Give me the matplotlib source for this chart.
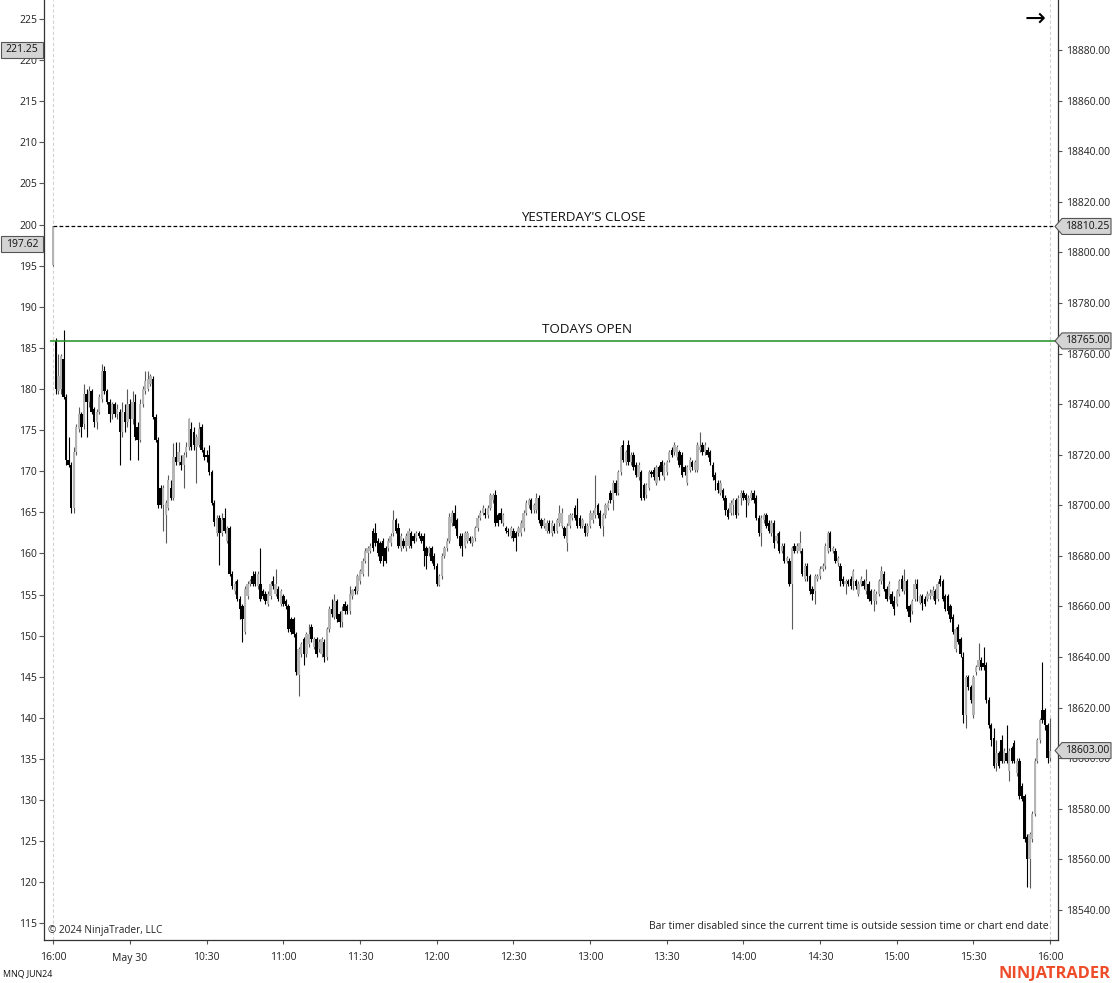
import numpy as np
import matplotlib
matplotlib.use("Agg")
from matplotlib import pyplot as plt
from matplotlib.patches import Polygon, Rectangle
import matplotlib.transforms as mtransforms

plt.rcParams['font.family'] = ['Open Sans', 'DejaVu Sans']

# 1-minute bars, MNQ JUN24, bar 0 = prior session close (16:00), then 9:31 .. 16:00
opens = [
    18795, 18765, 18745, 18746, 18758, 18743, 18718, 18716, 18699, 18721,
    18730, 18736, 18732, 18744, 18741, 18745, 18738, 18733, 18737, 18742,
    18753, 18745, 18741, 18736, 18740, 18736, 18737, 18729, 18737, 18733,
    18740, 18734, 18741, 18731, 18726, 18740, 18745, 18746, 18748, 18750,
    18735, 18726, 18707, 18700, 18696, 18699, 18707, 18703, 18719, 18717,
    18717, 18716, 18721, 18723, 18730, 18729, 18723, 18724, 18731, 18722,
    18720, 18720, 18713, 18701, 18689, 18695, 18689, 18695, 18686, 18691,
    18673, 18666, 18670, 18663, 18660, 18650, 18664, 18669, 18672, 18673,
    18668, 18669, 18666, 18665, 18661, 18664, 18670, 18665, 18667, 18661,
    18664, 18662, 18660, 18655, 18655, 18649, 18633, 18641, 18647, 18641,
    18645, 18652, 18644, 18647, 18643, 18641, 18646, 18640, 18651, 18659,
    18656, 18662, 18657, 18654, 18661, 18660, 18658, 18664, 18667, 18666,
    18670, 18673, 18678, 18681, 18682, 18690, 18689, 18686, 18685, 18686,
    18683, 18683, 18685, 18689, 18694, 18691, 18683, 18686, 18683, 18684,
    18689, 18688, 18687, 18689, 18688, 18688, 18683, 18681, 18683, 18680,
    18676, 18668.5, 18672, 18680, 18683, 18686, 18693, 18697, 18694, 18688,
    18688, 18684, 18686, 18687, 18685, 18687, 18691, 18695, 18697, 18697,
    18696, 18699, 18702, 18704, 18696, 18697, 18693, 18691, 18690, 18688,
    18690, 18689, 18689, 18689, 18691, 18697, 18700, 18702, 18698, 18698,
    18703, 18694, 18692, 18690, 18693, 18689, 18692, 18690, 18693, 18692,
    18691, 18685, 18692, 18695, 18699, 18696, 18695, 18692, 18692, 18689,
    18692, 18694, 18696, 18700, 18697, 18692, 18696, 18699, 18705, 18702,
    18709, 18705, 18713, 18724, 18717, 18724, 18717, 18720, 18716, 18711,
    18713, 18708, 18704, 18707, 18713, 18714, 18709, 18715, 18717, 18711,
    18713, 18718, 18722, 18721, 18719, 18721, 18720, 18715, 18709, 18714,
    18717, 18714, 18714, 18722, 18724, 18721, 18722, 18721, 18716, 18712,
    18709, 18705, 18706, 18703, 18698, 18697, 18700, 18702, 18697, 18703,
    18705, 18704, 18701, 18703, 18705, 18703, 18695, 18689, 18694, 18696,
    18693, 18689, 18693, 18686, 18689, 18682, 18684, 18678, 18678, 18669,
    18684, 18682, 18682, 18682, 18671, 18676, 18672, 18667, 18666, 18671,
    18672, 18675, 18676, 18682, 18689, 18682, 18682, 18677, 18676, 18671,
    18669, 18670, 18671, 18670, 18670, 18665, 18669, 18670, 18666, 18669,
    18666, 18662, 18662, 18665, 18670, 18673, 18667, 18664, 18665, 18662,
    18661, 18665, 18671, 18666, 18670, 18660, 18658, 18663, 18669, 18661.5,
    18664, 18663, 18663, 18664, 18664, 18666, 18663, 18671, 18670, 18664,
    18664, 18660, 18656, 18643, 18652, 18647, 18640, 18617, 18632, 18628,
    18617, 18634, 18636, 18639, 18637.5, 18637, 18623, 18613, 18608, 18598,
    18602, 18607, 18599, 18602, 18595, 18604, 18606, 18594, 18599, 18589,
    18585, 18569, 18560, 18568, 18578, 18599, 18607, 18619, 18619, 18613, 18600,
]
highs = [
    18810.5, 18766, 18760, 18760, 18769.5, 18744, 18727, 18717, 18723, 18732,
    18739, 18737, 18748, 18746, 18747, 18746, 18739, 18738, 18744, 18756,
    18755, 18746, 18742, 18741, 18741, 18740, 18738, 18741, 18740, 18746,
    18742, 18745, 18744, 18733, 18742, 18747, 18753, 18753, 18752, 18751,
    18736, 18727, 18708, 18708, 18702, 18712, 18710, 18724.5, 18725, 18725,
    18720, 18721, 18725, 18734.5, 18733, 18731, 18728, 18733, 18732, 18723,
    18722, 18724, 18714, 18702, 18696, 18696, 18697, 18699, 18692, 18692,
    18674, 18670, 18671, 18664, 18661, 18668, 18670, 18671, 18674, 18674,
    18674, 18683, 18667, 18666, 18666, 18670, 18672, 18675, 18668, 18667,
    18665, 18663, 18661, 18656, 18656, 18650, 18644, 18646, 18648, 18650,
    18653, 18653, 18648, 18648, 18647, 18648, 18647, 18652, 18660, 18663,
    18665, 18663, 18658, 18660, 18662, 18661, 18668, 18667, 18668, 18673,
    18675, 18679, 18683, 18684, 18685, 18691, 18693, 18687, 18686, 18687,
    18684, 18687, 18689, 18698, 18695, 18693, 18689, 18687, 18689, 18691,
    18690, 18689, 18690, 18690, 18689, 18689, 18684, 18684, 18684, 18681,
    18677, 18673, 18681, 18684, 18687, 18697, 18698, 18700, 18695, 18689,
    18689, 18690, 18690, 18688, 18688, 18692, 18696, 18698, 18700, 18699,
    18700, 18705, 18705, 18706, 18697, 18699, 18697, 18692, 18691, 18692,
    18691, 18690, 18692, 18694, 18698, 18702, 18703, 18703, 18701, 18705,
    18704, 18695, 18695, 18694, 18694, 18694, 18693, 18695, 18700, 18699,
    18692, 18693, 18697, 18697, 18700, 18703, 18696, 18695, 18693, 18693,
    18698, 18698, 18712, 18701, 18698, 18697, 18701, 18702, 18706, 18710,
    18710, 18714, 18724, 18726, 18722, 18726, 18721, 18721, 18717, 18717,
    18714, 18709, 18709, 18714, 18714, 18715, 18716, 18716, 18718, 18717,
    18718, 18722, 18723, 18725, 18724, 18722, 18721, 18716, 18716, 18719,
    18718, 18718, 18725, 18729, 18725, 18725, 18723, 18722, 18717, 18713,
    18710, 18710, 18707, 18704, 18699, 18702, 18703, 18703, 18704, 18706,
    18706, 18705, 18704, 18706, 18706, 18704, 18696, 18696, 18697, 18697,
    18694, 18694, 18694, 18689, 18690, 18685, 18685, 18680, 18679, 18684,
    18685, 18685, 18690, 18683, 18677, 18677, 18673, 18668, 18673, 18673,
    18676, 18677, 18685, 18690, 18690, 18684, 18683, 18680, 18677, 18672,
    18671, 18671, 18672, 18675, 18671, 18670, 18672, 18671, 18675, 18670,
    18667, 18667, 18666, 18671, 18676, 18674, 18668, 18670, 18666, 18664,
    18667, 18671, 18672.5, 18675, 18671, 18661, 18663, 18671, 18671, 18665,
    18665, 18664, 18666, 18667, 18668, 18667, 18670, 18672.5, 18671, 18665,
    18665, 18661, 18657, 18652, 18653, 18648, 18642, 18633, 18633, 18629,
    18633, 18637, 18645.5, 18640, 18644, 18638, 18624, 18614, 18612, 18607,
    18603, 18609, 18604, 18613, 18604, 18605, 18607, 18600, 18600, 18590,
    18586, 18570, 18571, 18579, 18600, 18608, 18616, 18638, 18620, 18614, 18616,
]
lows = [
    18794.5, 18744, 18744, 18744, 18742, 18716, 18715, 18697, 18697, 18720,
    18729, 18727, 18730, 18727, 18739, 18736, 18731, 18730, 18736, 18741,
    18744, 18740, 18733, 18734, 18735, 18734, 18716, 18727, 18729, 18731,
    18718, 18732, 18726, 18718, 18725, 18739, 18744, 18745, 18747, 18734,
    18725, 18699, 18699, 18690, 18685, 18698, 18702, 18702, 18716, 18716,
    18714, 18707, 18719, 18722, 18722, 18722, 18709, 18723, 18721, 18718,
    18717, 18712, 18700, 18692, 18688, 18676.5, 18688, 18689, 18685, 18672,
    18667, 18665, 18662, 18655, 18646, 18649, 18663, 18668, 18668, 18668,
    18667, 18662, 18663, 18661, 18660, 18663, 18667, 18664, 18662, 18660,
    18660, 18659, 18650, 18649, 18648, 18633, 18624.5, 18640, 18637, 18640,
    18644, 18646, 18643, 18640, 18642, 18640, 18638, 18639, 18650, 18656,
    18655, 18654, 18652, 18652, 18657, 18657, 18657, 18663, 18665, 18665,
    18669, 18672, 18677, 18672, 18681, 18682, 18684, 18680, 18677, 18676,
    18677, 18682, 18684, 18688, 18689, 18683, 18682, 18683, 18682, 18683,
    18683, 18685, 18686, 18687, 18685, 18676, 18675, 18680, 18677, 18675,
    18668, 18668, 18671, 18679, 18682, 18685, 18692, 18691, 18687, 18683,
    18680, 18683, 18685, 18685, 18684, 18686, 18690, 18694, 18696, 18695,
    18695, 18698, 18701, 18692, 18692, 18693, 18692, 18689, 18688, 18687,
    18686, 18682, 18688, 18688, 18690, 18696, 18699, 18697, 18697, 18697,
    18693, 18691, 18691, 18689, 18689, 18688, 18689, 18689, 18692, 18691,
    18687, 18682, 18691, 18694, 18694, 18691, 18691, 18691, 18688, 18688,
    18691, 18693, 18695, 18695, 18691, 18688, 18695, 18698, 18701, 18698,
    18704, 18704, 18712, 18717, 18716, 18716, 18716, 18714, 18711, 18710,
    18702, 18702, 18703, 18706, 18711, 18710, 18708, 18710, 18712, 18710,
    18712, 18717, 18719, 18720, 18718, 18715, 18711, 18712, 18708, 18713,
    18714, 18713, 18713, 18721, 18720, 18720, 18719, 18716, 18710, 18706,
    18705, 18704, 18702, 18696, 18694.5, 18696, 18696, 18695, 18696, 18700,
    18702, 18695.5, 18700, 18702, 18701, 18694, 18688, 18684, 18693, 18691,
    18689, 18688, 18683, 18685, 18681, 18681, 18677, 18677, 18668, 18651,
    18681, 18681, 18681, 18672, 18670, 18670, 18665, 18662.5, 18661, 18670,
    18671, 18674, 18675, 18681, 18682, 18681, 18677, 18676, 18668, 18668,
    18665, 18668, 18667, 18666.5, 18667, 18664, 18668, 18667, 18665, 18662,
    18661, 18658, 18661, 18664, 18669, 18666, 18662, 18663, 18660, 18656.5,
    18660, 18664, 18666, 18665, 18658, 18654, 18657, 18662, 18662, 18661,
    18658.5, 18660, 18662, 18663, 18663, 18661, 18662, 18668, 18662, 18658,
    18657, 18654, 18649, 18642, 18645, 18640, 18614, 18612, 18627, 18622,
    18616, 18633, 18635, 18635, 18635, 18622, 18612, 18605, 18596, 18595,
    18596, 18598, 18598, 18598, 18591, 18598, 18598, 18593, 18584, 18583,
    18567, 18549, 18548.5, 18567, 18577, 18598, 18606, 18614, 18611, 18598, 18599,
]
closes = [
    18810.25, 18746, 18751, 18759, 18743, 18718, 18716, 18699, 18721, 18731,
    18736, 18731, 18744, 18741, 18745, 18737, 18733, 18737, 18743, 18753,
    18745, 18741, 18736, 18740, 18736, 18738, 18729, 18737, 18733, 18740,
    18734, 18741, 18727, 18726, 18740, 18746, 18749, 18750, 18751, 18735,
    18726, 18700, 18700, 18707, 18701, 18710, 18703, 18719, 18717, 18721,
    18716, 18720, 18723, 18734, 18723, 18724, 18727, 18730, 18722, 18719,
    18719, 18713, 18701, 18693.5, 18695, 18689, 18694, 18690, 18691, 18673,
    18668, 18669, 18663, 18659, 18655, 18667, 18669, 18670, 18669, 18669,
    18673, 18663, 18664, 18662, 18665, 18669, 18668, 18669, 18663, 18666,
    18661, 18660, 18651, 18650, 18649, 18634, 18643, 18645, 18641, 18649,
    18649, 18647, 18647, 18641, 18646, 18647, 18640, 18651, 18659, 18657,
    18662, 18655, 18654, 18658, 18658, 18658, 18665, 18666.5, 18666, 18672,
    18674, 18678, 18682, 18683, 18684, 18683, 18685, 18681, 18678, 18680,
    18678, 18686, 18688, 18694, 18690, 18684, 18688, 18684, 18688, 18690,
    18684, 18686, 18689, 18688, 18686, 18682, 18680, 18683, 18678, 18676,
    18669, 18672, 18680, 18683, 18686, 18695.5, 18697, 18692, 18688, 18684,
    18684, 18689, 18689, 18686, 18687, 18691, 18695, 18697, 18699, 18696,
    18699, 18704, 18704, 18693, 18693, 18694, 18696, 18690, 18689.5, 18691,
    18687, 18687, 18691, 18693, 18697, 18701, 18702, 18698, 18700, 18703,
    18694, 18692, 18694, 18693, 18690, 18693, 18690, 18694, 18697, 18697,
    18688, 18692, 18696, 18696, 18695, 18692, 18692, 18694, 18689, 18692,
    18697, 18697, 18699, 18696, 18692, 18696, 18700, 18701, 18702, 18709,
    18705, 18713, 18723, 18718, 18721, 18717, 18720, 18715, 18712, 18716,
    18703, 18703, 18708, 18713, 18712.5, 18711, 18715, 18711, 18713, 18716,
    18717, 18721, 18720, 18724, 18723, 18716, 18712, 18713, 18715, 18718,
    18715, 18717, 18724, 18723, 18721, 18724, 18720, 18717, 18711, 18710,
    18706, 18709, 18703, 18698, 18695.5, 18701, 18702, 18696, 18703, 18705,
    18703, 18702, 18703, 18705, 18702, 18695, 18689, 18695, 18696, 18692,
    18690, 18693, 18685, 18688, 18682, 18684, 18678, 18679, 18669, 18683,
    18682, 18684, 18685, 18673, 18676, 18672, 18666, 18665, 18672, 18672,
    18675, 18676, 18684, 18689, 18683, 18683, 18678, 18679, 18670, 18669,
    18670, 18669, 18668, 18674, 18668, 18669, 18671, 18668, 18670, 18663,
    18662, 18666, 18665, 18670, 18674, 18667, 18663, 18669, 18661, 18659,
    18666, 18670, 18667, 18670, 18659, 18656, 18662, 18669, 18667, 18664,
    18661.5, 18661, 18665, 18665.5, 18666.5, 18662, 18669, 18669, 18663, 18659,
    18658, 18655, 18650, 18651, 18646, 18641, 18617, 18632, 18628, 18623,
    18632, 18636, 18639, 18636, 18636, 18623, 18613, 18607, 18597, 18602,
    18597, 18599, 18603, 18599, 18603, 18599, 18599, 18599, 18585, 18584,
    18568, 18560, 18570, 18578, 18599, 18607, 18615, 18615, 18613, 18600, 18603,
]

time_ticks = [0, 30, 60, 90, 120, 150, 180, 210, 240, 270, 300, 330, 360, 390]
time_labels = ['16:00', 'May 30', '10:30', '11:00', '11:30', '12:00', '12:30',
               '13:00', '13:30', '14:00', '14:30', '15:00', '15:30', '16:00']

price_ticks = list(range(18540, 18881, 20))
left_ticks = list(range(115, 226, 5))

yesterday_close = 18810.25
todays_open = 18765.00
last_price = 18603.00
left_markers = [221.25, 197.62]

W, H = 1112, 983
fig = plt.figure(figsize=(W / 100, H / 100), dpi=100)
ax = fig.add_axes([44 / W, 43 / H, 1014 / W, 940 / H])
axl = ax.twinx()

ax.set_xlim(-3.64, 393.1)
ax.set_ylim(18528.1, 18899.8)
axl.set_ylim(112.98, 227.31)

# candles
o = np.array(opens, dtype=float)
hi = np.array(highs, dtype=float)
lo = np.array(lows, dtype=float)
c = np.array(closes, dtype=float)
x = np.arange(len(o))
up = c >= o
body_bot = np.minimum(o, c)
body_h = np.maximum(np.abs(c - o), 0.5)

ax.vlines(x[up], lo[up], hi[up], colors='#5a5a5a', lw=0.8, zorder=2)
ax.vlines(x[~up], lo[~up], hi[~up], colors='#000000', lw=0.8, zorder=2)
ax.bar(x[up], body_h[up], bottom=body_bot[up], width=0.92, color='#b5b5b5', lw=0, zorder=3)
ax.bar(x[~up], body_h[~up], bottom=body_bot[~up], width=0.92, color='#000000', lw=0, zorder=3)

# session breaks
for sx in [0, 390]:
    ax.axvline(sx, color='#d2d2d2', lw=0.8, ls=(0, (3, 2)), zorder=1)

# reference lines
ax.hlines(yesterday_close, 0, 393.1, colors='black', lw=0.9, linestyles=(0, (3, 1.8)), zorder=4)
ax.hlines(todays_open, -1.3, 393.1, colors='#1f8f1f', lw=1.1, zorder=4)
ax.text(207.5, yesterday_close + 2.25, "YESTERDAY'S CLOSE", ha='center', va='baseline',
        fontsize=9.6, color='#111111')
ax.text(209, todays_open + 3.3, 'TODAYS OPEN', ha='center', va='baseline',
        fontsize=9.6, color='#111111')

# axes styling
for sp in axl.spines.values():
    sp.set_visible(False)
ax.spines['top'].set_visible(False)
for name in ['left', 'right', 'bottom']:
    ax.spines[name].set_color('#333333')
    ax.spines[name].set_linewidth(0.9)

ax.yaxis.tick_right()
ax.set_yticks(price_ticks)
ax.set_yticklabels([f'{v:.2f}' for v in price_ticks])
ax.tick_params(axis='y', length=3, width=0.8, pad=2.5, labelsize=7.5,
               color='#555555', labelcolor='#222222')
ax.set_xticks(time_ticks)
ax.set_xticklabels(time_labels)
ax.tick_params(axis='x', length=3, width=0.8, pad=6, labelsize=7.5,
               color='#555555', labelcolor='#222222')

axl.yaxis.tick_left()
axl.set_yticks(left_ticks)
axl.set_yticklabels([str(v) for v in left_ticks])
axl.tick_params(axis='y', length=3.5, width=0.8, pad=1.5, labelsize=7.5,
                color='#555555', labelcolor='#222222')

# price tags on the right axis
tr_r = mtransforms.blended_transform_factory(ax.transAxes, ax.transData)
px = 1 / 1014
half_r = 8 / 2.5294
tip = 0.99704
for v in [yesterday_close, todays_open, last_price]:
    pts = [(tip, v), (tip + 7 * px, v + half_r), (tip + 56 * px, v + half_r),
           (tip + 56 * px, v - half_r), (tip + 7 * px, v - half_r)]
    ax.add_patch(Polygon(pts, closed=True, transform=tr_r, facecolor='#d4d4d4',
                         edgecolor='#555555', lw=0.8, clip_on=False, zorder=6))
    ax.text(tip + 32 * px, v, f'{v:.2f}', transform=tr_r, ha='center', va='center',
            fontsize=7.5, color='#111111', clip_on=False, zorder=7)

# marker boxes on the left axis
tr_l = mtransforms.blended_transform_factory(axl.transAxes, axl.transData)
half_l = 8 / 8.222
for v in left_markers:
    axl.add_patch(Rectangle((-43 * px, v - half_l), 42 * px, 2 * half_l, transform=tr_l,
                            facecolor='#d4d4d4', edgecolor='#555555', lw=0.8,
                            clip_on=False, zorder=6))
    axl.text(-22 * px, v, f'{v:.2f}', transform=tr_l, ha='center', va='center',
             fontsize=7.5, color='#111111', clip_on=False, zorder=7)

# annotations around the chart
fig.text(48 / W, 1 - 933 / H, '\u00a9 2024 NinjaTrader, LLC', fontsize=7.2,
         va='baseline', color='#222222')
fig.text(1049 / W, 1 - 929 / H,
         'Bar timer disabled since the current time is outside session time or chart end date',
         ha='right', va='baseline', fontsize=7.5, color='#222222')
fig.text(3 / W, 1 - 977 / H, 'MNQ JUN24', fontsize=6.4, va='baseline', color='#111111')
fig.text(1110 / W, 1 - 978 / H, 'NINJATRADER', ha='right', va='baseline', fontsize=11.8,
         fontweight='bold', color='#ee4b28')
fig.text(1035.5 / W, 1 - 19 / H, '\u2192', ha='center', va='center', fontsize=18,
         family='DejaVu Sans', color='black')

fig.savefig('out.png', dpi=100)
